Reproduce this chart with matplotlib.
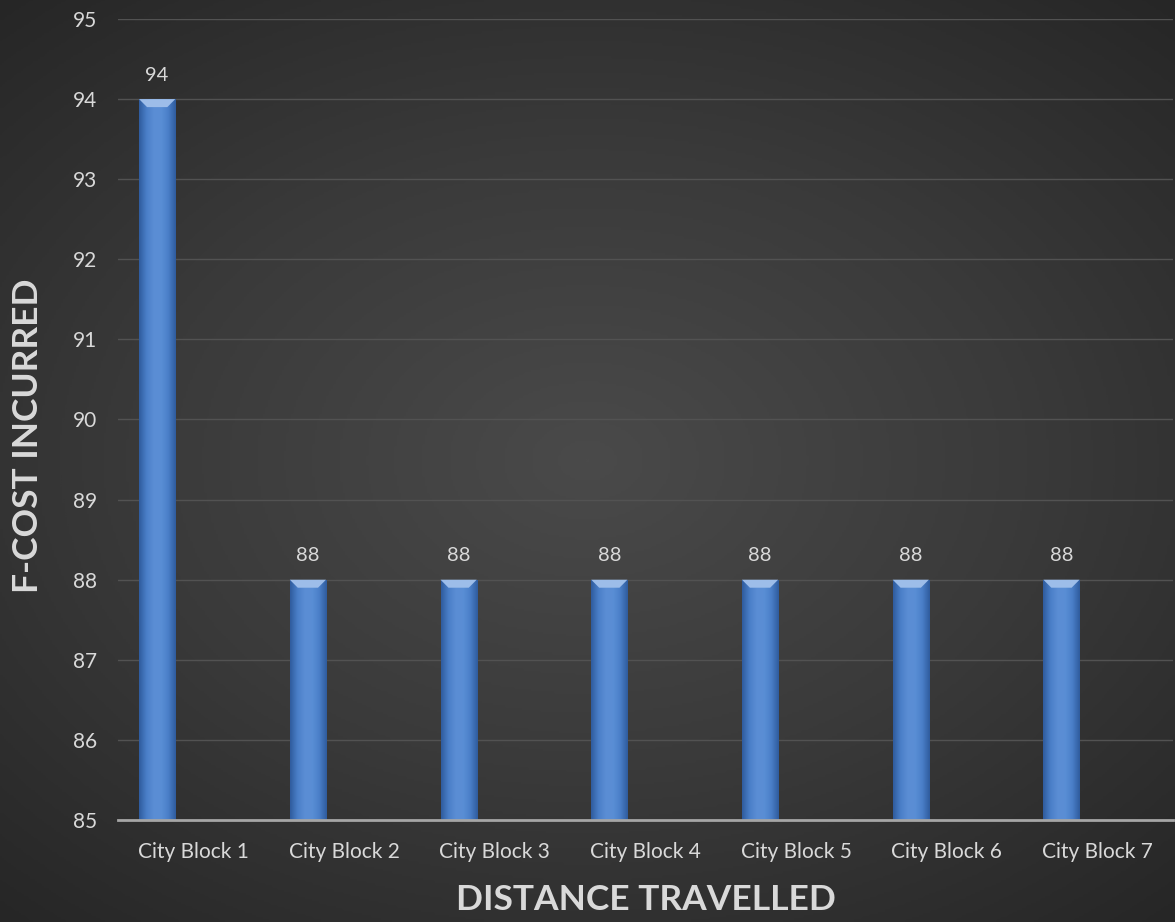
import numpy as np
import matplotlib.pyplot as plt
from matplotlib.colors import LinearSegmentedColormap
from matplotlib.patches import Polygon

# data
categories = ['City Block 1', 'City Block 2', 'City Block 3', 'City Block 4',
              'City Block 5', 'City Block 6', 'City Block 7']
f_cost = [94, 88, 88, 88, 88, 88, 88]

plt.rcParams['font.family'] = ['Lato', 'DejaVu Sans']
text_col = '#d9d9d9'

fig = plt.figure(figsize=(11.75, 9.22), dpi=100)

# radial gradient background
bg = fig.add_axes([0, 0, 1, 1], zorder=-10)
yy, xx = np.mgrid[-1:1:400j, -1:1:500j]
r = np.sqrt((xx * 0.9) ** 2 + (yy * 1.0) ** 2)
bg_cmap = LinearSegmentedColormap.from_list('bg', ['#4a4a4a', '#3a3a3a', '#262626'])
bg.imshow(r, cmap=bg_cmap, vmin=0, vmax=1.35, aspect='auto', extent=[0, 1, 0, 1])
bg.axis('off')

ax = fig.add_axes([118 / 1175, 1 - 820 / 922, (1173 - 118) / 1175, (820 - 19) / 922])
ax.patch.set_alpha(0)

x = np.arange(len(categories))
width = 0.24
offset = -0.24
bars = ax.bar(x + offset, f_cost, width, bottom=0, color='#4a7fc8', zorder=3)

ax.set_ylim(85, 95)
ax.set_xlim(-0.5, len(categories) - 0.5)

# horizontal gradient inside each bar + bevel on top
bar_cmap = LinearSegmentedColormap.from_list(
    'bar', ['#2f5c9e', '#4a7fc8', '#5b8dd4', '#5a8ed5', '#4a7fc8', '#2f5c9e'])
grad = np.linspace(0, 1, 64).reshape(1, -1)
for b in bars:
    x0, w, h = b.get_x(), b.get_width(), b.get_height()
    im = ax.imshow(grad, cmap=bar_cmap, aspect='auto', zorder=3.5,
                   extent=[x0, x0 + w, 85, h], interpolation='bicubic')
    im.set_clip_path(b)
    bev = 0.1
    inset = w * 0.22
    top = Polygon([[x0, h], [x0 + w, h], [x0 + w - inset, h - bev], [x0 + inset, h - bev]],
                  closed=True, facecolor='#9dbde9', edgecolor='none', zorder=4)
    ax.add_patch(top)
    ax.text(x0 + w / 2, h + 0.19, f'{h:g}', ha='center', va='bottom',
            color=text_col, fontsize=14.5)

ax.set_yticks(np.arange(85, 96, 1))
ax.grid(axis='y', color='#525252', linewidth=1, zorder=0)
ax.set_axisbelow(True)
for s in ['top', 'right', 'left']:
    ax.spines[s].set_visible(False)
ax.spines['bottom'].set_color('#a6a6a6')
ax.spines['bottom'].set_linewidth(2)
ax.spines['bottom'].set_zorder(5)

ax.set_xticks(x)
ax.set_xticklabels(categories)
ax.tick_params(axis='both', length=0, colors=text_col, labelsize=15)
ax.tick_params(axis='x', pad=16)
ax.tick_params(axis='y', pad=15)

ax.set_xlabel('DISTANCE TRAVELLED', fontsize=25.5, fontweight='bold', color=text_col)
ax.set_ylabel('F-COST INCURRED', fontsize=25.5, fontweight='bold', color=text_col)
ax.xaxis.set_label_coords((646 - 118) / 1055, (820 - 900) / 801)
ax.xaxis.label.set_va('center')
ax.yaxis.set_label_coords((28 - 118) / 1055, (820 - 436) / 801)
ax.yaxis.label.set_va('center')

fig.savefig('out.png', dpi=100)
